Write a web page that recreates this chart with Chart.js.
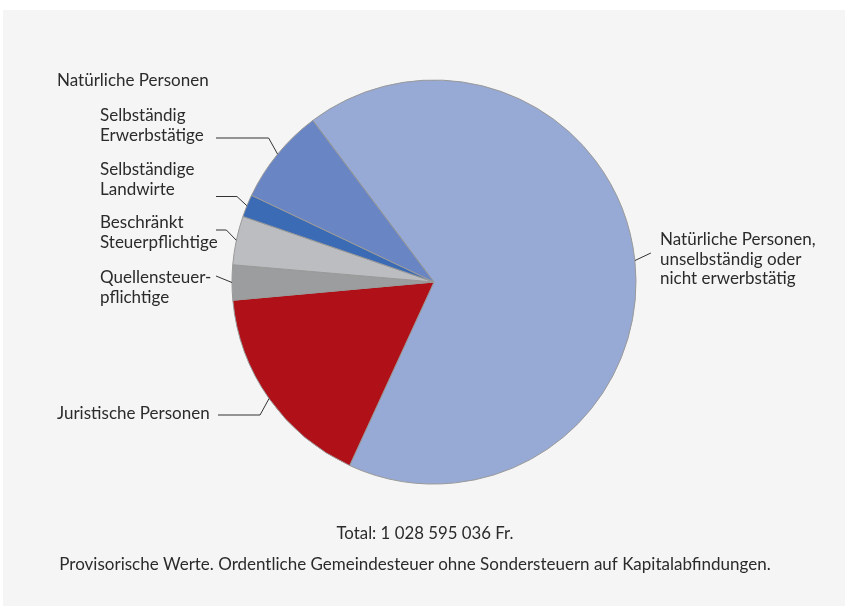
<!DOCTYPE html>
<html>
<head>
<meta charset="utf-8">
<script src="https://cdn.jsdelivr.net/npm/chart.js@4.4.1/dist/chart.umd.min.js"></script>
<style>
	html, body { margin: 0; padding: 0; background: #fff; }
	#wrap { width: 846px; height: 607px; position: relative; }
</style>
</head>
<body>
<div id="wrap"><canvas id="myChart"></canvas></div>
<script>
'use strict';

// Anteile in %, im Uhrzeigersinn ab dem grossen Segment
const categories = [
	'Natürliche Personen, unselbständig oder nicht erwerbstätig',
	'Juristische Personen',
	'Quellensteuerpflichtige',
	'Beschränkt Steuerpflichtige',
	'Selbständige Landwirte',
	'Selbständig Erwerbstätige'
];
const shares = [67.1, 16.7, 2.8, 3.9, 1.8, 7.7];
const sliceColors = ['#97a9d5', '#b01018', '#9c9d9f', '#bcbdc1', '#3a6bb4', '#6985c3'];
const labelLines = [
	['Natürliche Personen,', 'unselbständig oder', 'nicht erwerbstätig'],
	['Juristische Personen'],
	['Quellensteuer-', 'pflichtige'],
	['Beschränkt', 'Steuerpflichtige'],
	['Selbständige', 'Landwirte'],
	['Selbständig', 'Erwerbstätige']
];
const groupLabel = 'Natürliche Personen';
const totalText = 'Total: 1 028 595 036 Fr.';
const noteText = 'Provisorische Werte. Ordentliche Gemeindesteuer ohne Sondersteuern auf Kapitalabfindungen.';

// placement of the labels and their leader lines
const labelPos = [
	{x: 660, y: 245, lineY: 253, dx: 16,  endX: null},
	{x: 57,  y: 419, lineY: 415, dx: -9,  endX: 218},
	{x: 100, y: 283, lineY: 276, dx: null, endX: 216},
	{x: 100, y: 228, lineY: 230, dx: -10, endX: 216},
	{x: 100, y: 175, lineY: 196.5, dx: -10, endX: 216},
	{x: 100, y: 121, lineY: 138, dx: -9,  endX: 216}
];

const FONT = 'Lato, "Noto Sans", sans-serif';
const TEXT = '#2b2b2b';

const panelBg = {
	id: 'panelBg',
	beforeDraw(chart) {
		const c = chart.ctx;
		c.save();
		c.fillStyle = '#f4f5f4';
		c.fillRect(3, 10, 842, 596);
		c.restore();
	}
};

const pieLabels = {
	id: 'pieLabels',
	afterDatasetsDraw(chart) {
		const c = chart.ctx;
		const arcs = chart.getDatasetMeta(0).data;
		c.save();
		c.strokeStyle = '#333';
		c.lineWidth = 1;
		arcs.forEach(function (arc, i) {
			const p = arc.getProps(['x', 'y', 'startAngle', 'endAngle', 'outerRadius'], true);
			const mid = (p.startAngle + p.endAngle) / 2;
			const ex = p.x + Math.cos(mid) * p.outerRadius;
			const ey = p.y + Math.sin(mid) * p.outerRadius;
			const pos = labelPos[i];
			c.beginPath();
			c.moveTo(ex, ey);
			if (pos.dx !== null) c.lineTo(ex + pos.dx, pos.lineY);
			if (pos.endX !== null) c.lineTo(pos.endX, pos.lineY);
			c.stroke();

			c.fillStyle = TEXT;
			c.font = '17px ' + FONT;
			c.textAlign = 'left';
			c.textBaseline = 'alphabetic';
			labelLines[i].forEach(function (line, k) {
				c.fillText(line, pos.x, pos.y + k * 19.5);
			});
		});

		c.fillText(groupLabel, 57, 86);

		c.textAlign = 'center';
		c.font = '17px ' + FONT;
		c.fillText(totalText, 425, 539, 177);
		c.fillText(noteText, 415, 570, 716);
		c.restore();
	}
};

let ctx = document.getElementById('myChart').getContext('2d');
let myPie = new Chart(ctx, {
	type   : 'pie',
	data   : {
		labels  : categories,
		datasets: [
			{
				data           : shares,
				backgroundColor: sliceColors,
				borderColor    : '#9a9a9a',
				borderWidth    : 1,
				radius         : 202
			}
		]
	},
	options: {
		responsive         : true,
		maintainAspectRatio: false,
		animation          : false,
		events             : [],
		rotation           : -36.87,
		layout             : {padding: {left: 232, right: 210, top: 80, bottom: 123}},
		plugins            : {
			legend : {display: false},
			tooltip: {enabled: false}
		}
	},
	plugins: [panelBg, pieLabels]
});
</script>
</body>
</html>
